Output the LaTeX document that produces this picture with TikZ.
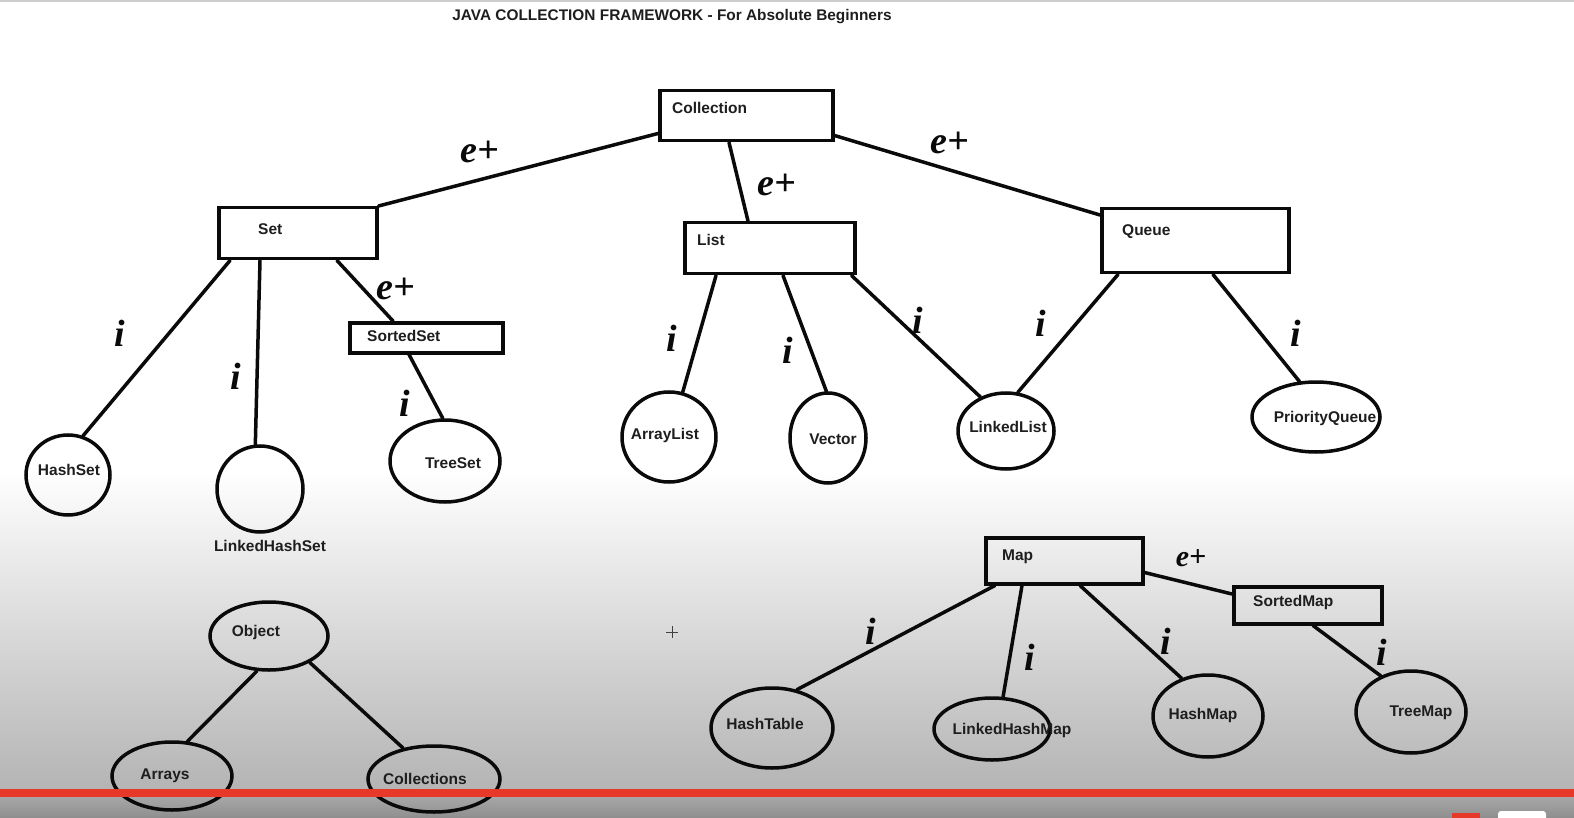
\documentclass[tikz,border=0pt]{standalone}
\usepackage{fontspec}
\setmainfont{Liberation Sans}
\newfontfamily\handfont{Liberation Serif}
\usetikzlibrary{shapes.geometric}

\definecolor{inkline}{RGB}{10,10,10}
\definecolor{labelink}{RGB}{30,30,30}
\definecolor{floorgray}{RGB}{180,180,180}
\definecolor{barred}{RGB}{230,57,42}
\definecolor{stripgrayA}{RGB}{168,168,168}
\definecolor{stripgrayB}{RGB}{142,142,142}
\definecolor{edgegray}{RGB}{205,205,205}

\begin{document}
\begin{tikzpicture}[x=1pt,y=-1pt,
  box/.style={draw=inkline, line width=3.5pt, rectangle, inner sep=0pt, anchor=north west},
  oval/.style={draw=inkline, line width=3.5pt, ellipse, inner sep=0pt},
  lbl/.style={font=\fontsize{15.5}{16}\selectfont\bfseries, text=labelink,
              inner sep=0pt, text height=11pt, text depth=0pt},
  link/.style={draw=inkline, line width=3.5pt, line cap=round},
  handmark/.style={font=\handfont\fontsize{38}{38}\selectfont\bfseries\itshape,
                   text=inkline, inner sep=0pt},
]
\useasboundingbox (0,0) rectangle (1574,818);

% backdrop: white board fading to grey, player strip at the bottom
\fill[white] (0,0) rectangle (1574,471);
\shade[top color=white, bottom color=floorgray] (0,470) rectangle (1574,790);
\fill[edgegray] (0,0) rectangle (1574,2);
\shade[top color=stripgrayA, bottom color=stripgrayB] (0,796) rectangle (1574,818);

% title
\node[lbl, font=\fontsize{15.4}{16}\selectfont\bfseries] (title) at (672,15)
  {JAVA COLLECTION FRAMEWORK - For Absolute Beginners};

% interface boxes
\node[box, minimum width=173pt, minimum height=50pt] (coll)  at (658,89)  {};
\node[box, minimum width=158pt, minimum height=51pt] (set)   at (217,206) {};
\node[box, minimum width=170pt, minimum height=51pt] (list)  at (683,221) {};
\node[box, minimum width=187pt, minimum height=64pt] (queue) at (1100,207) {};
\node[box, minimum width=153pt, minimum height=30pt] (sset)  at (348,321) {};
\node[box, minimum width=157pt, minimum height=46pt] (map)   at (984,536) {};
\node[box, minimum width=148pt, minimum height=37pt] (smap)  at (1232,585) {};

\node[lbl, anchor=west] (coll-t)  at ([xshift=14pt,yshift=-19pt]coll.north west)  {Collection};
\node[lbl, anchor=west] (set-t)   at ([xshift=41pt,yshift=-23pt]set.north west)   {Set};
\node[lbl, anchor=west] (list-t)  at ([xshift=14pt,yshift=-19pt]list.north west)  {List};
\node[lbl, anchor=west] (queue-t) at ([xshift=22pt,yshift=-23pt]queue.north west) {Queue};
\node[lbl, anchor=west] (sset-t)  at ([xshift=19pt,yshift=-15pt]sset.north west)  {SortedSet};
\node[lbl, anchor=west] (map-t)   at ([xshift=18pt,yshift=-19pt]map.north west)   {Map};
\node[lbl, anchor=west] (smap-t)  at ([xshift=21pt,yshift=-16pt]smap.north west)  {SortedMap};

% implementation classes
\node[oval, minimum width=84pt,  minimum height=80pt] (hashset)     at (68,475)   {};
\node[oval, minimum width=86pt,  minimum height=86pt] (lhset)       at (260,489)  {};
\node[oval, minimum width=110pt, minimum height=82pt] (treeset)     at (445,461)  {};
\node[oval, minimum width=94pt,  minimum height=90pt] (arraylist)   at (669,437)  {};
\node[oval, minimum width=76pt,  minimum height=90pt] (vector)      at (828,438)  {};
\node[oval, minimum width=96pt,  minimum height=76pt] (linkedlist)  at (1006,431) {};
\node[oval, minimum width=128pt, minimum height=70pt] (pqueue)      at (1316,417) {};
\node[oval, minimum width=118pt, minimum height=68pt] (object)      at (269,636)  {};
\node[oval, minimum width=120pt, minimum height=68pt] (arrays)      at (172,776)  {};
\node[oval, minimum width=132pt, minimum height=66pt] (collections) at (434,779)  {};
\node[oval, minimum width=122pt, minimum height=80pt] (hashtable)   at (772,728)  {};
\node[oval, minimum width=116pt, minimum height=62pt] (lhmap)       at (992,729)  {};
\node[oval, minimum width=110pt, minimum height=82pt] (hashmap)     at (1208,716) {};
\node[oval, minimum width=110pt, minimum height=82pt] (treemap)     at (1411,712) {};

\node[lbl] (hashset-t)     at (69,470)   {HashSet};
\node[lbl] (lhset-t)       at (270,546)  {LinkedHashSet};
\node[lbl] (treeset-t)     at (453,463)  {TreeSet};
\node[lbl] (arraylist-t)   at (665,434)  {ArrayList};
\node[lbl] (vector-t)      at (833,439)  {Vector};
\node[lbl] (linkedlist-t)  at (1008,427) {LinkedList};
\node[lbl] (pqueue-t)      at (1325,417) {PriorityQueue};
\node[lbl] (object-t)      at (256,631)  {Object};
\node[lbl] (arrays-t)      at (165,774)  {Arrays};
\node[lbl] (collections-t) at (425,779)  {Collections};
\node[lbl] (hashtable-t)   at (765,724)  {HashTable};
\node[lbl] (lhmap-t)       at (1012,729) {LinkedHashMap};
\node[lbl] (hashmap-t)     at (1203,714) {HashMap};
\node[lbl] (treemap-t)     at (1421,711) {TreeMap};

% hierarchy links
\draw[link] ([yshift=9pt]coll.south west)   -- (set.north east);
\draw[link] ([xshift=71pt]coll.south west)  -- ([xshift=65pt]list.north west);
\draw[link] ([yshift=7pt]coll.south east)   -- ([yshift=-8pt]queue.north west);
\draw[link] ([xshift=13pt]set.south west)   -- (hashset.69);
\draw[link] ([xshift=43pt]set.south west)   -- (lhset.96);
\draw[link] ([xshift=120pt]set.south west)  -- ([xshift=45pt]sset.north west);
\draw[link] ([xshift=61pt]sset.south west)  -- (treeset.93);
\draw[link] ([xshift=33pt]list.south west)  -- (arraylist.73);
\draw[link] ([xshift=100pt]list.south west) -- (vector.92);
\draw[link] ([xshift=-5pt]list.south east)  -- (linkedlist.127);
\draw[link] ([xshift=18pt]queue.south west) -- (linkedlist.73);
\draw[link] ([xshift=113pt]queue.south west) -- (pqueue.115);
\draw[link] ([xshift=11pt]map.south west)   -- (hashtable.57);
\draw[link] ([xshift=38pt]map.south west)   -- (lhmap.71);
\draw[link] ([xshift=96pt]map.south west)   -- (hashmap.125);
\draw[link] ([yshift=13pt]map.south east)   -- ([yshift=-9pt]smap.north west);
\draw[link] ([xshift=81pt]smap.south west)  -- (treemap.130);
\draw[link] (object.-109) -- (arrays.66);
\draw[link] (object.-33)  -- (collections.135);

% hand-written relation marks: e+ = extends, i = implements
\node[handmark] (m-e1) at (480,152)  {e+};
\node[handmark] (m-e2) at (777,185)  {e+};
\node[handmark] (m-e3) at (950,143)  {e+};
\node[handmark] (m-e4) at (396,289)  {e+};
\node[handmark, font=\handfont\fontsize{30}{30}\selectfont\bfseries\itshape] (m-e5) at (1191,558) {e+};
\node[handmark] (m-i1)  at (120,333)  {i};
\node[handmark] (m-i2)  at (236,376)  {i};
\node[handmark] (m-i3)  at (405,403)  {i};
\node[handmark] (m-i4)  at (672,338)  {i};
\node[handmark] (m-i5)  at (788,350)  {i};
\node[handmark] (m-i6)  at (918,320)  {i};
\node[handmark] (m-i7)  at (1041,323) {i};
\node[handmark] (m-i8)  at (1296,333) {i};
\node[handmark] (m-i9)  at (871,631)  {i};
\node[handmark] (m-i10) at (1030,657) {i};
\node[handmark] (m-i11) at (1166,641) {i};
\node[handmark] (m-i12) at (1382,652) {i};

% pointer cross
\draw[line width=0.8pt, black!75] (666,632) -- (678,632) (672,626) -- (672,638);

% progress bar and control slivers, laid over the drawing
\fill[barred] (0,789) rectangle (1574,797);
\fill[barred] (1452,813) rectangle (1480,818);
\fill[white, rounded corners=3pt] (1498,811) rectangle (1546,825);
\end{tikzpicture}
\end{document}
